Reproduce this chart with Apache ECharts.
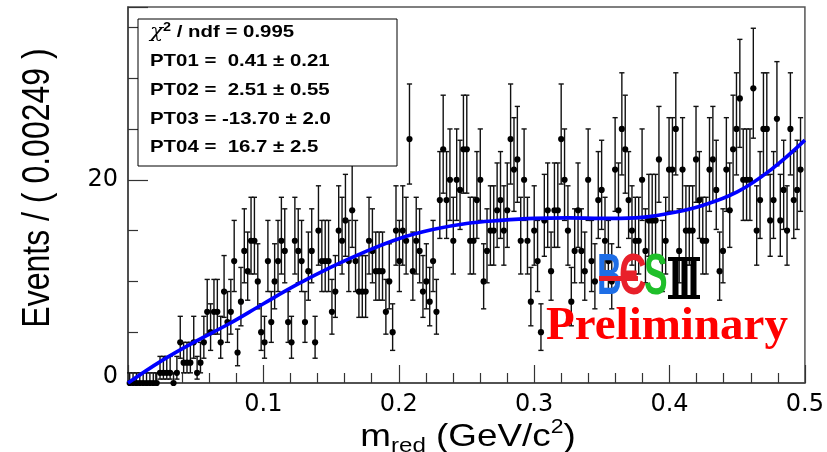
<!DOCTYPE html>
<html><head><meta charset="utf-8">
<script src="https://cdn.jsdelivr.net/npm/echarts@6/dist/echarts.min.js"></script>
<style>html,body{margin:0;padding:0;background:#fff}#c{width:827px;height:452px}</style>
</head><body><div id="c"></div>
<script>
// ---- data ----
const binWidth = 0.00249;
const counts = [
  0,0,0,0,0,0,0,0,0,1,   1,1,1,0,1,4,2,2,2,4,
  1,2,4,7,5,7,7,4,9,6,   7,12,3,8,13,11,14,14,10,5,
  4,12,6,10,12,14,13,6,4,14,
  13,12,6,11,13,4,15,12,12,12,  7,9,15,14,16,12,17,12,9,9,
  9,14,13,11,11,11,7,10,5,15,   12,15,14,24,11,14,13,9,10,8,
  12,7,18,23,18,20,14,20,19,23, 23,14,
  14,18,20,10,13,15,15,17,18,15, 17,24,21,22,14,20,14,8,15,12,
  5,16,17,11,17,17,24,20,15,8,  13,17,13,11,20,12,10,18,19,14,
  12,10,21,17,25,23,
  18,15,14,14,20,13,16,16,16,22, 12,14,21,21,25,13,21,15,15,15,
  22,18,14,14,21,22,19,11,13,21, 17,23,25,28,20,20,20,29,15,18,
  25,25,16,18,26,16,19,15,25,18, 19,21
];
const fitX = [0,0.025,0.05,0.075,0.1,0.125,0.15,0.175,0.2,0.225,0.25,0.275,0.3,0.325,0.35,0.375,0.4,0.425,0.45,0.475,0.5];
const fitY = [0,2.2,4.1,5.85,7.8,9.7,11.4,12.9,14.2,15.1,15.7,16.0,16.2,16.25,16.2,16.25,16.7,17.5,18.8,21.0,23.9];
const xTickLabels = ['0.1','0.2','0.3','0.4','0.5'];
const yTickLabels = ['0','20'];
const statLines = ['PT01 =  0.41 \u00b1 0.21','PT02 =  2.51 \u00b1 0.55','PT03 = -13.70 \u00b1 2.0','PT04 =  16.7 \u00b1 2.5'];
const chiText = ' / ndf = 0.995';
const yTitle = 'Events / ( 0.00249 )';

// ---- build ----
const pts = counts.map((n, i) => {
  const s = Math.sqrt(n + 0.25);
  return [(i + 0.5) * binWidth, n, Math.max(0, n + 0.5 - s), n + 0.5 + s];
});
const fitData = fitX.map((x, i) => [x, fitY[i]]);

const chart = echarts.init(document.getElementById('c'), null, {renderer: 'canvas'});
const statText = statLines.map((t, i) => ({
  type: 'text', x: 150, y: 61.5 + i * 28.7, scaleX: 1.2, z: 101,
  style: {text: t, fontFamily: 'Liberation Sans', fontWeight: 'bold', fontSize: 17, fill: '#000',
    align: 'left', verticalAlign: 'middle', textAlign: 'left', textVerticalAlign: 'middle'}
}));

chart.setOption({
  animation: false,
  backgroundColor: '#fff',
  grid: {left: 128, right: 19, top: 7, bottom: 69, show: true, borderColor: '#555', borderWidth: 1.5, backgroundColor: '#fff'},
  xAxis: {
    type: 'value', min: 0, max: 0.5, interval: 0.1,
    axisLine: {show: true, lineStyle: {color: '#444', width: 1.6}},
    axisTick: {show: true, inside: true, length: 18, lineStyle: {color: '#333', width: 1.2}},
    minorTick: {show: true, splitNumber: 5, length: 10, lineStyle: {color: '#333', width: 1.2}},
    splitLine: {show: false},
    axisLabel: {
      margin: 10, color: '#000', fontFamily: 'DejaVu Sans', fontSize: 24,
      formatter: v => { const k = Math.round(v * 10) - 1; return (k >= 0 && k < xTickLabels.length) ? xTickLabels[k] : ''; }
    }
  },
  yAxis: {
    type: 'value', min: 0, max: 37, interval: 20,
    axisLine: {show: true, lineStyle: {color: '#444', width: 1.6}},
    axisTick: {show: true, inside: true, length: 20, lineStyle: {color: '#333', width: 1.2}},
    minorTick: {show: true, splitNumber: 4, length: 10, lineStyle: {color: '#333', width: 1.2}},
    splitLine: {show: false},
    axisLabel: {
      margin: 10, color: '#000', fontFamily: 'DejaVu Sans', fontSize: 24, showMaxLabel: false,
      formatter: v => v === 0 ? '{z|' + yTickLabels[0] + '}' : (v === 20 ? yTickLabels[1] : ''),
      rich: {z: {fontFamily: 'DejaVu Sans', fontSize: 24, color: '#000', padding: [0, 0, 12, 0]}}
    }
  },
  series: [
    {
      type: 'custom', z: 3, clip: false,
      encode: {x: 0, y: 1},
      data: pts,
      renderItem: (params, api) => {
        const x = api.value(0);
        const p = api.coord([x, api.value(1)]);
        const pl = api.coord([x, api.value(2)]);
        const ph = api.coord([x, api.value(3)]);
        const cw = 2.6, st = {stroke: '#111', lineWidth: 1.4};
        return {type: 'group', children: [
          {type: 'line', shape: {x1: p[0], y1: pl[1], x2: p[0], y2: ph[1]}, style: st},
          {type: 'line', shape: {x1: p[0] - cw, y1: ph[1], x2: p[0] + cw, y2: ph[1]}, style: st},
          {type: 'line', shape: {x1: p[0] - cw, y1: pl[1], x2: p[0] + cw, y2: pl[1]}, style: st},
          {type: 'circle', shape: {cx: p[0], cy: p[1], r: 3.1}, style: {fill: '#000'}}
        ]};
      }
    },
    {
      type: 'line', z: 5, data: fitData, smooth: 0.4, showSymbol: false, symbol: 'none',
      lineStyle: {color: '#0000ff', width: 3.6}
    }
  ],
  graphic: [
    {type: 'rect', z: 100, shape: {x: 138, y: 19, width: 259, height: 147}, style: {fill: '#fff', stroke: '#000', lineWidth: 1}},
    {type: 'text', x: 150, y: 32, scaleX: 1.2, z: 101,
      style: {text: '{c|\u03c7}{p|2}{t|' + chiText + '}', align: 'left', verticalAlign: 'middle', textAlign: 'left', textVerticalAlign: 'middle',
        rich: {
          c: {fontFamily: 'DejaVu Serif', fontStyle: 'italic', fontSize: 18, fill: '#000', color: '#000', lineHeight: 20, verticalAlign: 'middle'},
          p: {fontFamily: 'Liberation Sans', fontWeight: 'bold', fontSize: 12, fill: '#000', color: '#000', lineHeight: 12, verticalAlign: 'top'},
          t: {fontFamily: 'Liberation Sans', fontWeight: 'bold', fontSize: 17, fill: '#000', color: '#000', lineHeight: 20, verticalAlign: 'middle'}
        }}},
    ...statText,
    {type: 'text', x: 38, y: 188, rotation: Math.PI / 2, scaleY: 1.2, z: 50,
      style: {text: yTitle, fontFamily: 'Liberation Sans', fontSize: 32, fill: '#000', align: 'center', verticalAlign: 'middle', textAlign: 'center', textVerticalAlign: 'middle'}},
    {type: 'text', x: 468, y: 437, scaleX: 1.15, z: 50,
      style: {text: '{a|m}{s|red}{a| (GeV/c}{p|2}{a|)}', align: 'center', verticalAlign: 'middle', textAlign: 'center', textVerticalAlign: 'middle',
        rich: {
          a: {fontFamily: 'Liberation Sans', fontSize: 32, fill: '#000', color: '#000', lineHeight: 40, verticalAlign: 'middle'},
          s: {fontFamily: 'Liberation Sans', fontSize: 21, fill: '#000', color: '#000', lineHeight: 20, verticalAlign: 'bottom'},
          p: {fontFamily: 'Liberation Sans', fontSize: 20, fill: '#000', color: '#000', lineHeight: 19, verticalAlign: 'top'}
        }}},
    // BESIII logo
    {type: 'text', x: 597, y: 278, scaleX: 0.6, z: 110,
      style: {text: 'B', fontFamily: 'Liberation Sans', fontWeight: 'bold', fontSize: 57, fill: '#1e6ee6', align: 'left', verticalAlign: 'middle', textAlign: 'left', textVerticalAlign: 'middle'}},
    {type: 'text', x: 619, y: 278, scaleX: 0.68, z: 110,
      style: {text: '\u0404', fontFamily: 'Liberation Sans', fontWeight: 'bold', fontSize: 57, fill: '#e8202a', align: 'left', verticalAlign: 'middle', textAlign: 'left', textVerticalAlign: 'middle'}},
    {type: 'rect', z: 111, shape: {x: 599, y: 276, width: 39, height: 5}, style: {fill: '#e8202a'}},
    {type: 'text', x: 644, y: 278, scaleX: 0.62, z: 110,
      style: {text: 'S', fontFamily: 'Liberation Sans', fontWeight: 'bold', fontSize: 57, fill: '#1fbf2a', align: 'left', verticalAlign: 'middle', textAlign: 'left', textVerticalAlign: 'middle'}},
    {type: 'rect', z: 110, shape: {x: 668, y: 257, width: 32, height: 4}, style: {fill: '#000'}},
    {type: 'rect', z: 110, shape: {x: 668, y: 295, width: 32, height: 4}, style: {fill: '#000'}},
    {type: 'rect', z: 110, shape: {x: 672.5, y: 259, width: 6, height: 38}, style: {fill: '#000'}},
    {type: 'rect', z: 110, shape: {x: 681.5, y: 259, width: 6, height: 38}, style: {fill: '#000'}},
    {type: 'rect', z: 110, shape: {x: 690.5, y: 259, width: 6, height: 38}, style: {fill: '#000'}},
    {type: 'text', x: 546, y: 327, z: 110,
      style: {text: 'Preliminary', fontFamily: 'Liberation Serif', fontWeight: 'bold', fontSize: 47, fill: '#ff0000', align: 'left', verticalAlign: 'middle', textAlign: 'left', textVerticalAlign: 'middle'}}
  ]
});
</script></body></html>
